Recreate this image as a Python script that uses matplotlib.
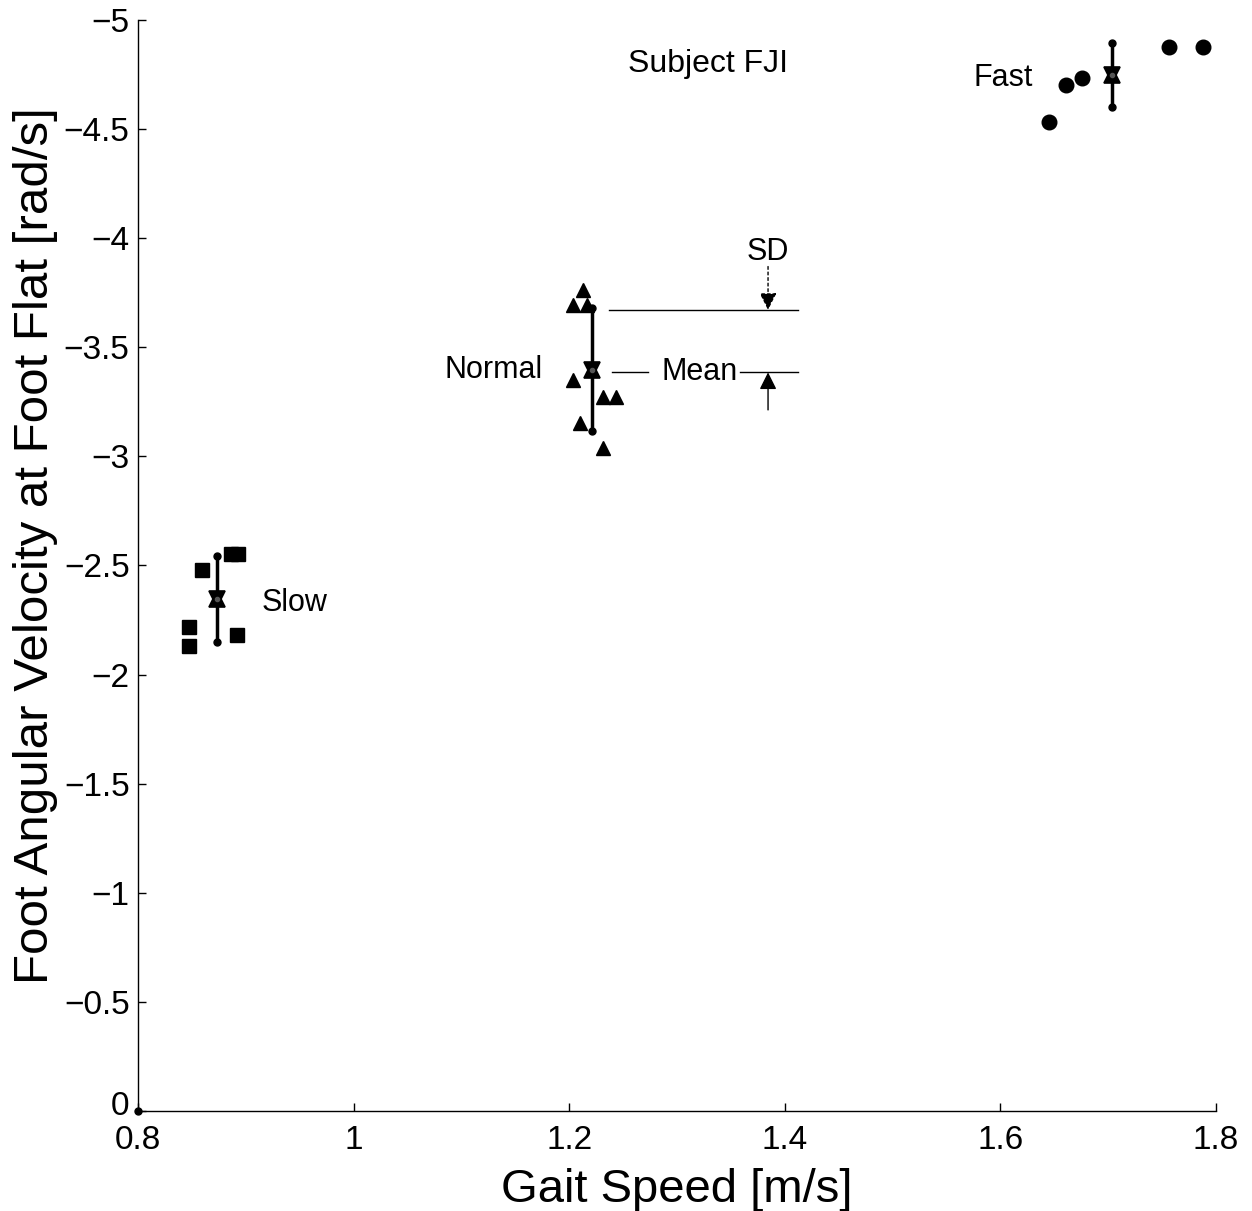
import matplotlib
matplotlib.use("Agg")
import matplotlib.pyplot as plt
import matplotlib.transforms as mtransforms
import numpy as np

plt.rcParams['font.family'] = ['Liberation Sans', 'DejaVu Sans']

# ---- data ----
slow_x = [0.886, 0.893, 0.859, 0.847, 0.847, 0.892]
slow_y = [-2.553, -2.553, -2.479, -2.218, -2.131, -2.181]
normal_x = [1.213, 1.2035, 1.2165, 1.2035, 1.2314, 1.2434, 1.210, 1.2314]
normal_y = [-3.763, -3.694, -3.694, -3.350, -3.272, -3.272, -3.153, -3.039]
fast_x = [1.6451, 1.6609, 1.6757, 1.7564, 1.788]
fast_y = [-4.532, -4.702, -4.734, -4.876, -4.876]

mean_x = [0.873, 1.221, 1.7035]
mean_y = [-2.346, -3.398, -4.748]
sd_y = [0.197, 0.282, 0.147]

group_labels = ["Slow", "Normal", "Fast"]
xticks = [0.8, 1.0, 1.2, 1.4, 1.6, 1.8]
xtick_labels = ["0.8", "1", "1.2", "1.4", "1.6", "1.8"]
yticks = [0, -0.5, -1, -1.5, -2, -2.5, -3, -3.5, -4, -4.5, -5]
ytick_labels = ["0", "\u22120.5", "\u22121", "\u22121.5", "\u22122", "\u22122.5",
                "\u22123", "\u22123.5", "\u22124", "\u22124.5", "\u22125"]

fig = plt.figure(figsize=(12.52, 12.11), dpi=100)
ax = fig.add_axes([0.1102, 0.0826, 0.861, 0.9009])

ax.plot(slow_x, slow_y, 's', color='black', markersize=9.5, linestyle='none')
ax.plot(normal_x, normal_y, '^', color='black', markersize=10.5, linestyle='none')
ax.plot(fast_x, fast_y, 'o', color='black', markersize=10.5, linestyle='none')

# mean +- SD bars
for mx, my, s in zip(mean_x, mean_y, sd_y):
    ax.plot([mx, mx], [my - s, my + s], '-', color='black', linewidth=2.5, zorder=3)
    ax.plot([mx, mx], [my - s, my + s], 'o', color='black', markersize=5, zorder=3)
# hexagram mean markers
ax.plot(mean_x, mean_y, '^', color='black', markersize=12, markerfacecolor='black',
        markeredgewidth=1.2, linestyle='none', zorder=4)
ax.plot(mean_x, mean_y, 'v', color='black', markersize=12, markerfacecolor='black',
        markeredgewidth=1.2, linestyle='none', zorder=4)
ax.plot(mean_x, mean_y, 'o', color='#555555', markersize=3, linestyle='none', zorder=5)

# origin dot
ax.plot([0.8], [0], 'o', color='black', markersize=5, clip_on=False)

# annotations
fs = 22
ax.text(1.3288, -4.80, "Subject FJI", fontsize=23, ha='center', va='center')
ax.text(1.63, -4.735, "Fast", fontsize=fs, ha='right', va='center')
ax.text(1.1757, -3.398, "Normal", fontsize=fs, ha='right', va='center')
ax.text(0.9145, -2.33, "Slow", fontsize=fs, ha='left', va='center')

# SD / Mean pointer lines
ax.plot([1.2369, 1.4122], [-3.671, -3.671], color='black', linewidth=1.0)
ax.plot([1.2397, 1.273], [-3.385, -3.385], color='black', linewidth=1.0)
ax.text(1.3213, -3.385, "Mean", fontsize=fs, ha='center', va='center')
ax.plot([1.3584, 1.4122], [-3.385, -3.385], color='black', linewidth=1.0)
ax.text(1.3845, -3.935, "SD", fontsize=fs, ha='center', va='center')
ax.annotate("", xy=(1.3845, -3.671), xytext=(1.3845, -3.87),
            arrowprops=dict(arrowstyle='-|>', color='black', lw=1.0, linestyle=(0, (2, 2)),
                            mutation_scale=26, shrinkA=0, shrinkB=0))
ax.annotate("", xy=(1.3845, -3.385), xytext=(1.3845, -3.213),
            arrowprops=dict(arrowstyle='-|>', color='black', lw=1.0,
                            mutation_scale=26, shrinkA=0, shrinkB=0))

ax.set_xlim(0.8, 1.8)
ax.set_ylim(0, -5)
ax.set_xticks(xticks)
ax.set_xticklabels(xtick_labels)
ax.set_yticks(yticks)
ax.set_yticklabels(ytick_labels)
ax.tick_params(direction='in', labelsize=24, length=6, width=1, pad=6)
ax.tick_params(axis='x', pad=10)
for sp in ['top', 'right']:
    ax.spines[sp].set_visible(False)
for sp in ['left', 'bottom']:
    ax.spines[sp].set_linewidth(1.0)

# nudge the "0" y tick label slightly up so it does not collide with "0.8"
zero_lbl = ax.get_yticklabels()[0]
zero_lbl.set_transform(zero_lbl.get_transform() +
                       mtransforms.ScaledTranslation(0, 6 / 72, fig.dpi_scale_trans))

ax.set_xlabel("Gait Speed [m/s]", fontsize=34, labelpad=9)
ax.set_ylabel("Foot Angular Velocity at Foot Flat [rad/s]", fontsize=35.5)
ax.yaxis.set_label_coords(-0.074, 0.518)

fig.savefig("out.png", dpi=100)
